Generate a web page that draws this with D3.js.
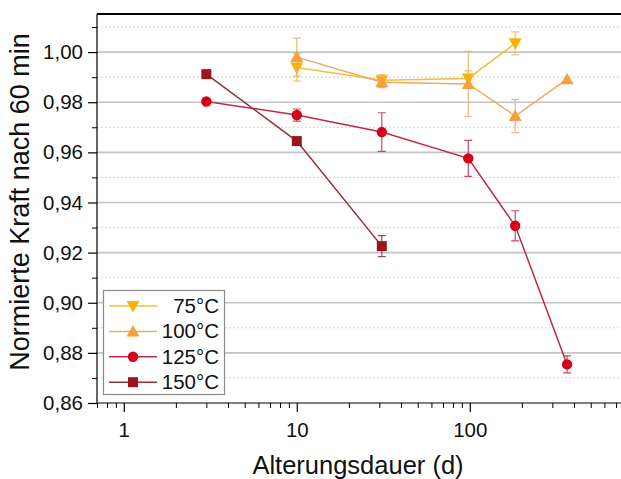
<!DOCTYPE html>
<html><head><meta charset="utf-8">
<script src="https://cdn.jsdelivr.net/npm/d3@7/dist/d3.min.js"></script>
<style>body{margin:0;background:#fff}svg{display:block;font-family:"Liberation Sans",Arial,sans-serif}</style>
</head><body><svg id="c" width="621" height="479"></svg>
<script>
// Data
const seriesNames = ["75°C", "100°C", "125°C", "150°C"];
const days75  = [10, 31, 98, 183];
const val75   = [0.9939, 0.9888, 0.9895, 1.0035];
const err75   = [0.0055, 0.0022, 0.0030, 0.0046];
const days100 = [10, 31, 98, 183, 365];
const val100  = [0.9980, 0.9880, 0.9873, 0.9745, 0.9892];
const err100  = [0.0076, 0.0022, 0.0130, 0.0066, 0.0000];
const days125 = [3, 10, 31, 98, 183, 365];
const val125  = [0.9803, 0.9749, 0.9681, 0.9576, 0.9307, 0.8754];
const err125  = [0.0000, 0.0024, 0.0077, 0.0072, 0.0060, 0.0034];
const days150 = [3, 10, 31];
const val150  = [0.9912, 0.9645, 0.9226];
const err150  = [0.0000, 0.0000, 0.0042];
const xTicks = [1, 10, 100];
const yTicks = [0.86, 0.88, 0.90, 0.92, 0.94, 0.96, 0.98, 1.00];

const styles = [
  {pt:"#F6B400", ln:"#F3BE3C", sym:"down"},
  {pt:"#F8A040", ln:"#F0A862", sym:"up"},
  {pt:"#D6001C", ln:"#BE2B45", sym:"circle"},
  {pt:"#9A161C", ln:"#8E3034", sym:"square"}
];
const series = [
  {x:days75, y:val75, e:err75},
  {x:days100, y:val100, e:err100},
  {x:days125, y:val125, e:err125},
  {x:days150, y:val150, e:err150}
];

const svg = d3.select("#c");
const L = 97, T = 14, B = 403;
const x = d3.scaleLog().domain([0.7, 800]).range([L, L + Math.log10(800/0.7)*173]);
const y = d3.scaleLinear().domain([0.86, 1.0152]).range([B, T]);
const R = 621;

// minor gridlines (dotted)
const yMinor = d3.range(0.87, 1.011, 0.02);
svg.append("g").selectAll("line").data(yMinor).join("line")
  .attr("x1", L).attr("x2", R).attr("y1", d=>y(d)).attr("y2", d=>y(d))
  .attr("stroke", "#d4d4d4").attr("stroke-width", 1).attr("stroke-dasharray", "2,2");
// major gridlines
svg.append("g").selectAll("line").data(yTicks.slice(1)).join("line")
  .attr("x1", L).attr("x2", R).attr("y1", d=>y(d)).attr("y2", d=>y(d))
  .attr("stroke", "#c4c4c4").attr("stroke-width", 1.6);

// axes
const xAx = d3.axisBottom(x).tickValues(xTicks).tickFormat(d3.format("d")).tickSize(9).tickPadding(10);
const gx = svg.append("g").attr("transform", `translate(0,${B})`).call(xAx);
const xMinor = [];
[0.1, 1, 10, 100].forEach(dec => { for (let k = 2; k <= 9; k++) { const v = k*dec; if (v > 0.7 && v < 800 && !xTicks.includes(v)) xMinor.push(v); } });
svg.append("g").attr("transform", `translate(0,${B})`).call(d3.axisBottom(x).tickValues(xMinor).tickFormat("").tickSize(5))
  .select(".domain").remove();
const yAx = d3.axisLeft(y).tickValues(yTicks).tickFormat(d => d3.format(".2f")(d).replace(".", ",")).tickSize(9).tickPadding(5);
const gy = svg.append("g").attr("transform", `translate(${L},0)`).call(yAx);
svg.append("g").attr("transform", `translate(${L},0)`).call(d3.axisLeft(y).tickValues(yMinor).tickFormat("").tickSize(5))
  .select(".domain").remove();
[gx, gy].forEach(g => { g.selectAll("text").attr("font-size", 20.5).attr("fill", "#111").attr("font-family", "Liberation Sans, Arial, sans-serif"); g.selectAll("line,path").attr("stroke", "#000").attr("stroke-width", 1.2); });
gy.select(".domain").attr("d", `M0,${B}V${T}`);
gx.select(".domain").attr("d", `M${L},0H${R}`);
// top border
svg.append("line").attr("x1", L).attr("x2", R).attr("y1", T).attr("y2", T).attr("stroke", "#000").attr("stroke-width", 2);

// titles
svg.append("text").attr("x", 358).attr("y", 474).attr("text-anchor", "middle").attr("font-size", 25.5).attr("fill", "#111").text("Alterungsdauer (d)");
svg.append("text").attr("transform", "translate(29,202) rotate(-90)").attr("text-anchor", "middle").attr("font-size", 27).attr("fill", "#111").text("Normierte Kraft nach 60 min");

function symbol(g, s, cx, cy, scale) {
  const k = scale || 1;
  if (s.sym === "circle") g.append("circle").attr("cx", cx).attr("cy", cy).attr("r", 5.2*k).attr("fill", s.pt);
  else if (s.sym === "square") g.append("rect").attr("x", cx-5*k).attr("y", cy-5*k).attr("width", 10*k).attr("height", 10*k).attr("fill", s.pt);
  else if (s.sym === "up") g.append("path").attr("d", `M${cx},${cy-6.5*k}L${cx+6.5*k},${cy+5*k}L${cx-6.5*k},${cy+5*k}Z`).attr("fill", s.pt);
  else g.append("path").attr("d", `M${cx},${cy+6.5*k}L${cx+6.5*k},${cy-5*k}L${cx-6.5*k},${cy-5*k}Z`).attr("fill", s.pt);
}

const line = d3.line().x(d=>x(d[0])).y(d=>y(d[1]));
series.forEach((s, i) => {
  const st = styles[i];
  const g = svg.append("g");
  const pts = s.x.map((d, j) => [d, s.y[j], s.e[j]]);
  g.append("path").attr("d", line(pts)).attr("fill", "none").attr("stroke", st.ln).attr("stroke-width", 1.5);
  pts.filter(p => p[2] > 0).forEach(p => {
    const px = x(p[0]), y1 = y(p[1]+p[2]), y2 = y(p[1]-p[2]);
    g.append("path").attr("d", `M${px},${y1}V${y2}M${px-4},${y1}H${px+4}M${px-4},${y2}H${px+4}`)
      .attr("stroke", st.ln).attr("stroke-width", 1.2).attr("fill", "none").attr("opacity", 0.85);
  });
  pts.forEach(p => symbol(g, st, x(p[0]), y(p[1])));
});

// legend
const lg = svg.append("g");
lg.append("rect").attr("x", 103.5).attr("y", 290.5).attr("width", 121).attr("height", 104).attr("fill", "#fff").attr("stroke", "#8a8a8a").attr("stroke-width", 1.2);
seriesNames.forEach((n, i) => {
  const ly = 306 + i*25.4;
  const st = styles[i];
  lg.append("line").attr("x1", 109).attr("x2", 157).attr("y1", ly).attr("y2", ly).attr("stroke", st.ln).attr("stroke-width", 1.5);
  symbol(lg, st, 133, ly);
  lg.append("text").attr("x", 219).attr("y", ly + 7).attr("text-anchor", "end").attr("font-size", 20.5).attr("fill", "#111").text(n);
});
</script></body></html>
